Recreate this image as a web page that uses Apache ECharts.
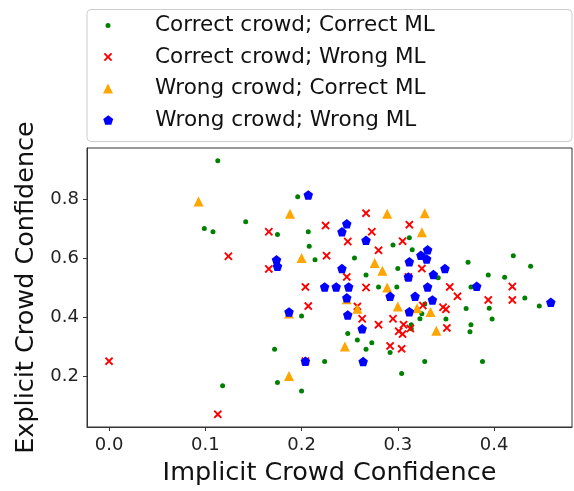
<!DOCTYPE html>
<html>
<head>
<meta charset="utf-8">
<script src="https://cdn.jsdelivr.net/npm/echarts@6/dist/echarts.min.js"></script>
<style>
html, body { margin: 0; padding: 0; background: #fff; }
#chart { width: 574px; height: 491px; }
</style>
</head>
<body>
<div id="chart"></div>
<script>
// legend / series names
var seriesNames = ['Correct crowd; Correct ML', 'Correct crowd; Wrong ML', 'Wrong crowd; Correct ML', 'Wrong crowd; Wrong ML'];

// tick labels
var xTicks = [0, 0.1, 0.2, 0.3, 0.4];
var yTicks = [0.2, 0.4, 0.6, 0.8];

// [implicit, explicit]
var correctCorrect = [
    [0.113,0.930],[0.142,0.723],[0.099,0.700],[0.108,0.689],[0.118,0.167],[0.196,0.808],[0.175,0.680],
    [0.207,0.689],[0.295,0.644],[0.208,0.640],[0.214,0.594],[0.255,0.600],[0.267,0.542],[0.300,0.564],
    [0.200,0.403],[0.280,0.502],[0.299,0.502],[0.248,0.344],[0.258,0.322],[0.273,0.313],[0.267,0.291],
    [0.292,0.280],[0.172,0.291],[0.224,0.249],[0.304,0.208],[0.175,0.178],[0.200,0.149],[0.312,0.669],
    [0.315,0.628],[0.342,0.533],[0.328,0.444],[0.325,0.411],[0.323,0.394],[0.350,0.393],[0.314,0.374],
    [0.314,0.360],[0.373,0.586],[0.394,0.542],[0.411,0.535],[0.420,0.608],[0.438,0.572],[0.376,0.502],
    [0.432,0.464],[0.447,0.437],[0.395,0.430],[0.398,0.393],[0.371,0.429],[0.376,0.374],[0.375,0.350],
    [0.328,0.249],[0.388,0.249]
];
var correctWrong = [
    [0.000,0.250],[0.124,0.606],[0.113,0.070],[0.267,0.752],[0.312,0.713],[0.166,0.689],[0.225,0.710],
    [0.248,0.656],[0.273,0.689],[0.280,0.626],[0.305,0.657],[0.226,0.608],[0.166,0.563],[0.247,0.536],
    [0.204,0.502],[0.267,0.500],[0.207,0.437],[0.258,0.436],[0.263,0.394],[0.280,0.374],[0.295,0.394],
    [0.306,0.374],[0.301,0.352],[0.305,0.342],[0.292,0.302],[0.304,0.292],[0.204,0.250],[0.325,0.564],
    [0.311,0.536],[0.354,0.502],[0.362,0.470],[0.326,0.439],[0.347,0.433],[0.350,0.426],[0.351,0.363],
    [0.313,0.361],[0.419,0.503],[0.419,0.458],[0.394,0.458]
];
var wrongCorrect = [
    [0.093,0.792],[0.188,0.750],[0.289,0.750],[0.328,0.752],[0.325,0.687],[0.200,0.600],[0.276,0.583],
    [0.284,0.557],[0.289,0.500],[0.258,0.428],[0.300,0.436],[0.320,0.430],[0.334,0.417],[0.340,0.353],
    [0.245,0.300],[0.187,0.200],[0.247,0.460],[0.187,0.412]
];
var wrongWrong = [
    [0.207,0.814],[0.247,0.716],[0.242,0.689],[0.267,0.660],[0.174,0.594],[0.175,0.572],[0.242,0.564],
    [0.224,0.502],[0.236,0.502],[0.249,0.502],[0.247,0.465],[0.292,0.470],[0.187,0.417],[0.248,0.407],
    [0.263,0.360],[0.204,0.250],[0.264,0.249],[0.331,0.628],[0.324,0.609],[0.330,0.597],[0.312,0.587],
    [0.337,0.544],[0.349,0.564],[0.311,0.536],[0.331,0.502],[0.318,0.470],[0.336,0.458],[0.312,0.418],
    [0.382,0.504],[0.459,0.450]
];

var FONT = 'DejaVu Sans';
var crossPath = 'path://M0,1.6L1.6,0L5,3.4L8.4,0L10,1.6L6.6,5L10,8.4L8.4,10L5,6.6L1.6,10L0,8.4L3.4,5Z';
var triPath = 'path://M5,0L10,10L0,10Z';
var pentPath = 'path://M50,0L97.55,34.55L79.39,90.45L20.61,90.45L2.45,34.55Z';

var symbols = ['circle', crossPath, triPath, pentPath];
var sizes = [5, 8.5, 10, 9.5];
var colors = ['green', 'red', 'orange', 'blue'];
var dataSets = [correctCorrect, correctWrong, wrongCorrect, wrongWrong];
var rowTops = [13.5, 45, 76.5, 108];

var myChart = echarts.init(document.getElementById('chart'));

var iconX = 108, textX = 155;
var series = [];
var legends = [];
for (var i = 0; i < 4; i++) {
    series.push({
        name: seriesNames[i],
        type: 'scatter',
        symbol: symbols[i],
        symbolSize: sizes[i],
        itemStyle: { color: colors[i], opacity: 1 },
        data: dataSets[i]
    });
    // 每个图例单独一个，图标大小不同
    legends.push({
        data: [seriesNames[i]],
        orient: 'vertical',
        left: iconX - sizes[i] / 2,
        top: rowTops[i],
        padding: 0,
        itemWidth: 2 * (textX - iconX - 5),
        itemHeight: sizes[i],
        selectedMode: false,
        z: 10,
        textStyle: { fontFamily: FONT, fontSize: 21.5, lineHeight: 24, color: '#111' }
    });
}

var option = {
    animation: false,
    grid: {
        left: 87,
        top: 148,
        width: 485,
        height: 284,
        show: true,
        borderColor: '#333',
        borderWidth: 1,
        backgroundColor: '#fff'
    },
    graphic: [{
        type: 'rect',
        left: 86.5,
        top: 9,
        z: 0,
        shape: { width: 485, height: 132, r: 4 },
        style: { fill: '#fff', stroke: '#cccccc', lineWidth: 1 }
    }],
    legend: legends,
    xAxis: {
        type: 'value',
        min: -0.0229,
        max: 0.481,
        splitLine: { show: false },
        axisLine: { show: true, onZero: false, lineStyle: { color: '#333' } },
        axisTick: { show: true, length: 4, lineStyle: { color: '#333' }, customValues: xTicks },
        axisLabel: {
            customValues: xTicks,
            formatter: function (v) { return v.toFixed(1); },
            fontFamily: FONT, fontSize: 18, color: '#222', margin: 9
        },
        name: 'Implicit Crowd Confidence',
        nameLocation: 'middle',
        nameGap: 33,
        nameTextStyle: { fontFamily: FONT, fontSize: 25.5, color: '#111' }
    },
    yAxis: {
        type: 'value',
        min: 0.027,
        max: 0.973,
        splitLine: { show: false },
        axisLine: { show: true, onZero: false, lineStyle: { color: '#333' } },
        axisTick: { show: true, length: 4, lineStyle: { color: '#333' }, customValues: yTicks },
        axisLabel: {
            customValues: yTicks,
            formatter: function (v) { return v.toFixed(1); },
            fontFamily: FONT, fontSize: 18, color: '#222', margin: 8
        },
        name: 'Explicit Crowd Confidence',
        nameLocation: 'middle',
        nameGap: 43,
        nameTextStyle: { fontFamily: FONT, fontSize: 25.5, color: '#111' }
    },
    series: series
};

myChart.setOption(option);
</script>
</body>
</html>
